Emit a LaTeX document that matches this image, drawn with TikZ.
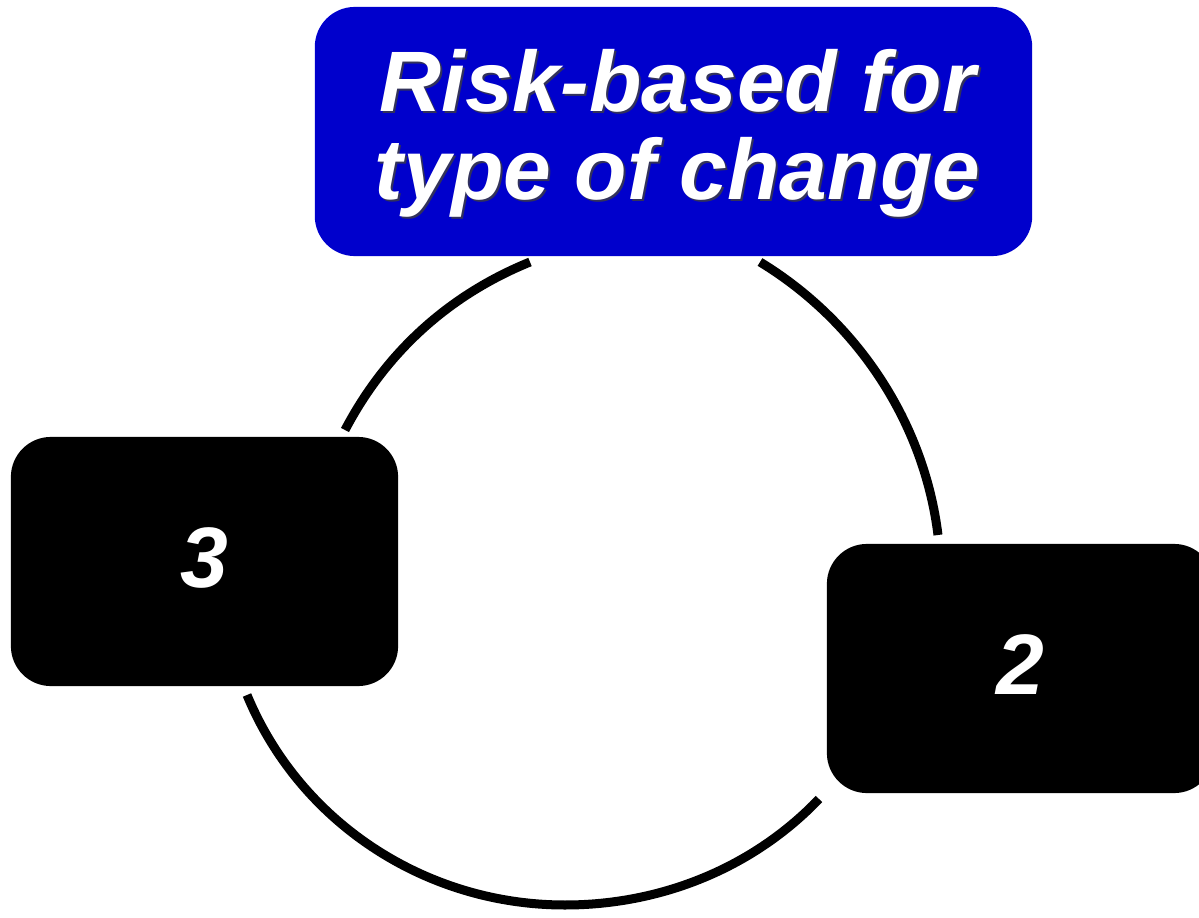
\documentclass[tikz,border=0pt]{standalone}
\usepackage{fontspec}
\setmainfont{Liberation Sans}
\definecolor{riskblue}{RGB}{0,0,204}
\definecolor{shadowgray}{RGB}{50,50,90}

\begin{document}
\begin{tikzpicture}[x=0.01cm,y=-0.01cm,
    cyclebox/.style={fill=black,rounded corners=0.4cm,inner sep=0pt,
      minimum width=3.87cm,minimum height=2.49cm,text=white,text depth=0.08cm,
      font=\fontsize{24.4}{25}\selectfont\bfseries\itshape},
    titlebox/.style={cyclebox,fill=riskblue,minimum width=7.17cm},
    titletext/.style={align=center,inner sep=0pt,text=white,
      font=\fontsize{24.4}{25}\selectfont\bfseries\itshape},
    cyclearc/.style={line width=0.09cm}]
    % Kepmeret
    \useasboundingbox (0,0) rectangle (1199,918);
    \clip (0,0) rectangle (1199,918);

    % Felso kek doboz
    \node[titlebox] (title) at (673.5,131.5) {};
    \node[titletext,text=shadowgray] (titleshadow) at ([shift={(6,4)}]title) {Risk-based for\\type of change};
    \node[titletext] (titletext) at ([shift={(4,2)}]title) {Risk-based for\\type of change};

    % Fekete dobozok
    \node[cyclebox] (three) at (204.5,561.5) {3};
    \node[cyclebox] (two) at (1020.5,668.5) {2};

    % Ivek vegpontjai
    \coordinate (tl) at (530,262);  % kek doboz alatt, bal
    \coordinate (tr) at (760,262);  % kek doboz alatt, jobb
    \coordinate (thin) at (345,430); % 3 felett
    \coordinate (thout) at (247,695); % 3 alatt
    \coordinate (twin) at (938,535); % 2 felett
    \coordinate (twout) at (819,799); % 2 alatt
    \coordinate (bot) at (565,905); % also pont

    % Korives osszekotok
    \draw[cyclearc] (tl) .. controls (449,295) and (386,352) .. (thin);
    \draw[cyclearc] (tr) .. controls (857,321) and (924,422) .. (twin);
    \draw[cyclearc] (twout) .. controls (753,868) and (661,905) .. (bot)
                           .. controls (426,905) and (300,823) .. (thout);
\end{tikzpicture}
\end{document}
